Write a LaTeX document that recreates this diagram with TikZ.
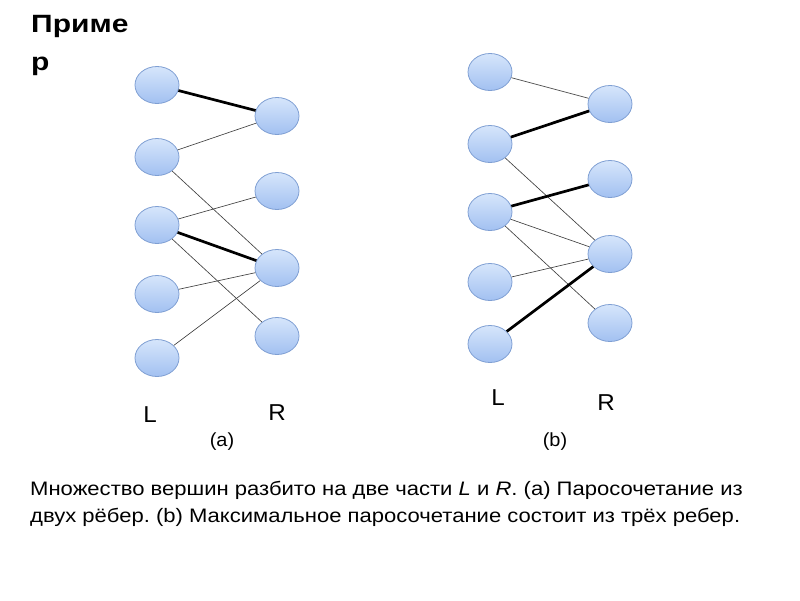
\documentclass[tikz,border=0pt]{standalone}
\usepackage{fontspec}
\setmainfont{Liberation Sans}
\usetikzlibrary{shapes.geometric}
\frenchspacing
\tikzset{
  vert/.style={ellipse, minimum width=44pt, minimum height=37pt, inner sep=0pt,
    draw=vborder, line width=0.8pt, top color=vtop, bottom color=vbot},
  thin edge/.style={draw=black!75, line width=0.65pt},
  match edge/.style={draw=black, line width=2.7pt},
  side/.style={font=\fontsize{23}{26}\selectfont, inner sep=0pt, xscale=1.05, transform shape},
  sub/.style={font=\fontsize{19}{22}\selectfont, inner sep=0pt, xscale=1.05, transform shape},
  captext/.style={anchor=west, inner sep=0pt, font=\fontsize{19.5}{27}\selectfont, xscale=1.13, transform shape},
  titletext/.style={anchor=base west, inner sep=0pt, font=\bfseries\fontsize{25}{38}\selectfont, xscale=1.2, transform shape},
}
\definecolor{vtop}{HTML}{D6E6FB}
\definecolor{vbot}{HTML}{A2C0F1}
\definecolor{vborder}{HTML}{7F9FD3}
\begin{document}
\begin{tikzpicture}[x=1pt,y=-1pt]
\useasboundingbox (0,0) rectangle (800,600);
% title
\node[titletext] (title1) at (31,32) {Приме};
\node[titletext] (title2) at (31,70) {р};
% graph (a)
\node[vert] (a1) at (157,85) {};
\node[vert] (a2) at (157,157) {};
\node[vert] (a3) at (157,225) {};
\node[vert] (a4) at (157,294) {};
\node[vert] (a5) at (157,358) {};
\node[vert] (b1) at (277,116) {};
\node[vert] (b2) at (277,191) {};
\node[vert] (b3) at (277,268) {};
\node[vert] (b4) at (277,336) {};
\draw[match edge] (a1) -- (b1);
\draw[thin edge] (a2) -- (b1);
\draw[thin edge] (a2) -- (b3);
\draw[thin edge] (a3) -- (b2);
\draw[match edge] (a3) -- (b3);
\draw[thin edge] (a3) -- (b4);
\draw[thin edge] (a4) -- (b3);
\draw[thin edge] (a5) -- (b3);
\node[side] (la) at (150,415) {L};
\node[side] (ra) at (277,413) {R};
\node[sub] (capa) at (222,442) {(a)};
% graph (b)
\node[vert] (c1) at (490,72) {};
\node[vert] (c2) at (490,144) {};
\node[vert] (c3) at (490,212) {};
\node[vert] (c4) at (490,282) {};
\node[vert] (c5) at (490,344) {};
\node[vert] (d1) at (610,104) {};
\node[vert] (d2) at (610,179) {};
\node[vert] (d3) at (610,254) {};
\node[vert] (d4) at (610,323) {};
\draw[thin edge] (c1) -- (d1);
\draw[match edge] (c2) -- (d1);
\draw[thin edge] (c2) -- (d3);
\draw[match edge] (c3) -- (d2);
\draw[thin edge] (c3) -- (d3);
\draw[thin edge] (c3) -- (d4);
\draw[thin edge] (c4) -- (d3);
\draw[match edge] (c5) -- (d3);
\node[side] (lb) at (498,398) {L};
\node[side] (rb) at (606,403) {R};
\node[sub] (capb) at (555,442) {(b)};
% caption
\node[captext] (cap1) at (30,490) {Множество вершин разбито на две части \textit{L} и \textit{R}. (a) Паросочетание из};
\node[captext] (cap2) at (30,517) {двух рёбер. (b) Максимальное паросочетание состоит из трёх ребер.};
\end{tikzpicture}
\end{document}
